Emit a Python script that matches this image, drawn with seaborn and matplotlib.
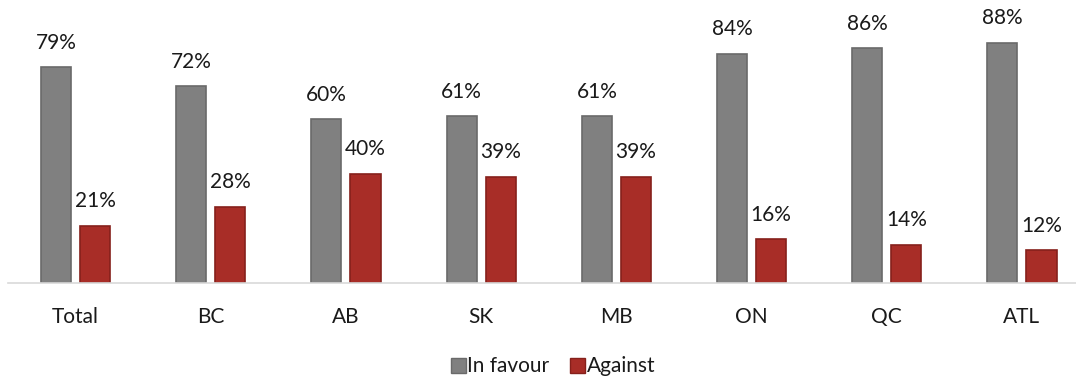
import matplotlib
matplotlib.use("Agg")
import matplotlib.pyplot as plt
from matplotlib.lines import Line2D
import seaborn as sns
import pandas as pd

regions = ["Total", "BC", "AB", "SK", "MB", "ON", "QC", "ATL"]
in_favour = [79, 72, 60, 61, 61, 84, 86, 88]
against = [21, 28, 40, 39, 39, 16, 14, 12]
series = ["In favour", "Against"]
colors = {"In favour": "#808080", "Against": "#a82d27"}
edges = {"In favour": "#6a6a6a", "Against": "#86201b"}

df = pd.DataFrame({
    "Region": regions * 2,
    "Share": in_favour + against,
    "Series": [series[0]] * len(regions) + [series[1]] * len(regions),
})

sns.set_theme(style="white")
plt.rcParams["font.family"] = ["Lato", "DejaVu Sans"]

fig = plt.figure(figsize=(10.76, 3.79), dpi=100)
ax = fig.add_axes([8 / 1076, 96 / 379, 1068 / 1076, 273 / 379])

sns.barplot(data=df, x="Region", y="Share", hue="Series", order=regions,
            hue_order=series, palette=colors, saturation=1, width=0.578,
            gap=0.23, legend=False, ax=ax)

for container, name in zip(ax.containers, series):
    for bar in container:
        bar.set_edgecolor(edges[name])
        bar.set_linewidth(1.2)
    ax.bar_label(container, labels=[f"{v:.0f}%" for v in container.datavalues],
                 padding=10.5, fontsize=15, color="#1a1a1a")

ax.set_ylim(0, 100)
ax.set_xlim(-0.5, 7.40)
ax.set_xlabel("")
ax.set_ylabel("")
ax.set_yticks([])
ax.tick_params(axis="x", length=0, pad=17, labelsize=15, colors="#1a1a1a")
for side in ["top", "right", "left"]:
    ax.spines[side].set_visible(False)
ax.spines["bottom"].set_color("#d9d9d9")
ax.spines["bottom"].set_linewidth(1.2)

handles = [Line2D([0], [0], marker="s", linestyle="none", markersize=10.8,
                  markerfacecolor=colors[s], markeredgecolor=edges[s])
           for s in series]
fig.legend(handles, series, loc="center", bbox_to_anchor=(553 / 1076, 1 - 366 / 379),
           ncol=2, frameon=False, fontsize=15, handletextpad=0.1,
           columnspacing=1.0, handlelength=0.7, labelcolor="#1a1a1a")

fig.savefig("out.png", dpi=100)
